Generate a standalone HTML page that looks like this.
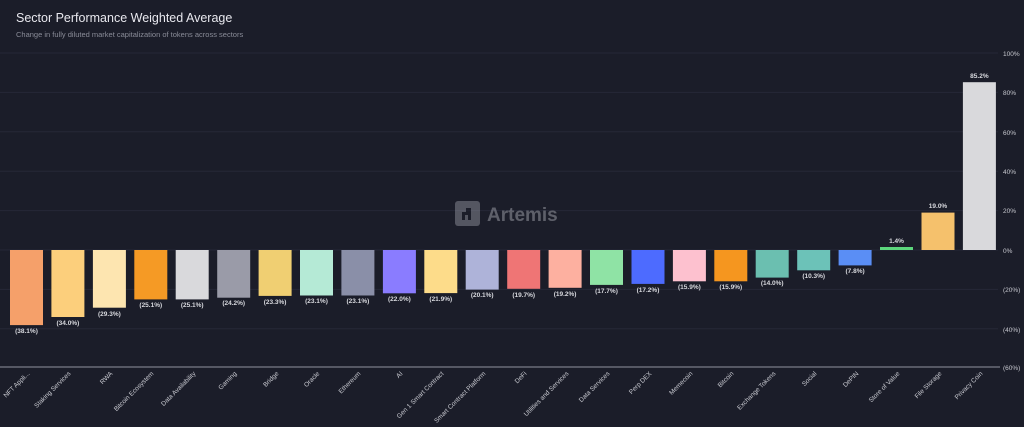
<!DOCTYPE html>
<html><head><meta charset="utf-8"><style>
html,body{margin:0;padding:0;background:#1b1d29;width:1024px;height:427px;overflow:hidden}
svg{display:block;font-family:"Liberation Sans",sans-serif}
</style></head><body>
<svg width="1024" height="427" viewBox="0 0 1024 427">
<rect width="1024" height="427" fill="#1b1d29"/>
<text x="16" y="22" fill="#e8e8ee" font-size="12.5">Sector Performance Weighted Average</text>
<text x="16" y="37" fill="#8a8c98" font-size="7.5">Change in fully diluted market capitalization of tokens across sectors</text>
<g stroke="#262837" stroke-width="1">
<line x1="0" x2="998" y1="53" y2="53"/><line x1="0" x2="998" y1="92.4" y2="92.4"/><line x1="0" x2="998" y1="131.8" y2="131.8"/><line x1="0" x2="998" y1="171.2" y2="171.2"/><line x1="0" x2="998" y1="210.6" y2="210.6"/><line x1="0" x2="998" y1="250" y2="250"/><line x1="0" x2="998" y1="289.4" y2="289.4"/><line x1="0" x2="998" y1="328.8" y2="328.8"/>
</g>
<line x1="0" x2="1000" y1="367" y2="367" stroke="#6a6c78" stroke-width="1.5"/>
<g fill="#c8c9d0" font-size="6.5">
<text x="1003" y="56">100%</text><text x="1003" y="95">80%</text><text x="1003" y="135">60%</text><text x="1003" y="174">40%</text><text x="1003" y="213">20%</text><text x="1003" y="253">0%</text><text x="1003" y="292">(20%)</text><text x="1003" y="332">(40%)</text><text x="1003" y="370">(60%)</text>
</g>
<g opacity="0.45">
<rect x="455" y="201" width="25" height="25" rx="3" fill="#9a9ba6"/>
<path d="M462 220 v-8 h4 v-4 h5 v12 h-3 v-5 h-3 v5z" fill="#1b1d29"/>
<text x="487" y="221" fill="#b0b1ba" font-size="19" font-weight="bold">Artemis</text>
</g>
<g>
<rect x="10" y="250" width="33" height="75.1" fill="#f5a06a"/>
<rect x="51.4" y="250" width="33" height="67" fill="#fccf7c"/>
<rect x="92.9" y="250" width="33" height="57.7" fill="#fde5b0"/>
<rect x="134.3" y="250" width="33" height="49.4" fill="#f59a25"/>
<rect x="175.7" y="250" width="33" height="49.4" fill="#d9d9dc"/>
<rect x="217.2" y="250" width="33" height="47.7" fill="#9a9ba8"/>
<rect x="258.6" y="250" width="33" height="45.9" fill="#f0cf72"/>
<rect x="300" y="250" width="33" height="45.5" fill="#b5ead6"/>
<rect x="341.4" y="250" width="33" height="45.5" fill="#8a8fa8"/>
<rect x="382.9" y="250" width="33" height="43.3" fill="#8a7cff"/>
<rect x="424.3" y="250" width="33" height="43.1" fill="#fddc8a"/>
<rect x="465.7" y="250" width="33" height="39.6" fill="#aeb3d9"/>
<rect x="507.2" y="250" width="33" height="38.8" fill="#ef7575"/>
<rect x="548.6" y="250" width="33" height="37.8" fill="#fdb0a0"/>
<rect x="590" y="250" width="33" height="34.9" fill="#8fe3a5"/>
<rect x="631.5" y="250" width="33" height="33.9" fill="#4d6bff"/>
<rect x="672.9" y="250" width="33" height="31.3" fill="#fdc1cf"/>
<rect x="714.3" y="250" width="33" height="31.3" fill="#f5961f"/>
<rect x="755.7" y="250" width="33" height="27.6" fill="#6bbfb0"/>
<rect x="797.2" y="250" width="33" height="20.3" fill="#6cc2b8"/>
<rect x="838.6" y="250" width="33" height="15.4" fill="#5a8ef5"/>
<rect x="880" y="247" width="33" height="3" fill="#5cd67c"/>
<rect x="921.5" y="212.6" width="33" height="37.4" fill="#f5c16c"/>
<rect x="962.9" y="82.2" width="33" height="167.8" fill="#d9d9dc"/>
</g>
<g fill="#d8d9de" font-size="6.5" text-anchor="middle" font-weight="bold">
<text x="26.5" y="333">(38.1%)</text><text x="67.9" y="325">(34.0%)</text><text x="109.4" y="316">(29.3%)</text><text x="150.8" y="307">(25.1%)</text><text x="192.2" y="307">(25.1%)</text><text x="233.7" y="305">(24.2%)</text><text x="275.1" y="304">(23.3%)</text><text x="316.5" y="303">(23.1%)</text><text x="357.9" y="303">(23.1%)</text><text x="399.4" y="301">(22.0%)</text><text x="440.8" y="301">(21.9%)</text><text x="482.2" y="297">(20.1%)</text><text x="523.7" y="297">(19.7%)</text><text x="565.1" y="296">(19.2%)</text><text x="606.5" y="293">(17.7%)</text><text x="648" y="292">(17.2%)</text><text x="689.4" y="289">(15.9%)</text><text x="730.8" y="289">(15.9%)</text><text x="772.2" y="285">(14.0%)</text><text x="813.7" y="278">(10.3%)</text><text x="855.1" y="273">(7.8%)</text><text x="896.5" y="243">1.4%</text><text x="938" y="208">19.0%</text><text x="979.4" y="78">85.2%</text>
</g>
<g fill="#c8c9d0" font-size="6.5" text-anchor="end">
<text transform="translate(30,374) rotate(-45)">NFT Appli...</text>
<text transform="translate(71,374) rotate(-45)">Staking Services</text>
<text transform="translate(113,374) rotate(-45)">RWA</text>
<text transform="translate(154,374) rotate(-45)">Bitcoin Ecosystem</text>
<text transform="translate(196,374) rotate(-45)">Data Availability</text>
<text transform="translate(237,374) rotate(-45)">Gaming</text>
<text transform="translate(279,374) rotate(-45)">Bridge</text>
<text transform="translate(320,374) rotate(-45)">Oracle</text>
<text transform="translate(361,374) rotate(-45)">Ethereum</text>
<text transform="translate(403,374) rotate(-45)">AI</text>
<text transform="translate(444,374) rotate(-45)">Gen 1 Smart Contract</text>
<text transform="translate(486,374) rotate(-45)">Smart Contract Platform</text>
<text transform="translate(527,374) rotate(-45)">DeFi</text>
<text transform="translate(569,374) rotate(-45)">Utilities and Services</text>
<text transform="translate(610,374) rotate(-45)">Data Services</text>
<text transform="translate(652,374) rotate(-45)">Perp DEX</text>
<text transform="translate(693,374) rotate(-45)">Memecoin</text>
<text transform="translate(734,374) rotate(-45)">Bitcoin</text>
<text transform="translate(776,374) rotate(-45)">Exchange Tokens</text>
<text transform="translate(817,374) rotate(-45)">Social</text>
<text transform="translate(859,374) rotate(-45)">DePIN</text>
<text transform="translate(900,374) rotate(-45)">Store of Value</text>
<text transform="translate(942,374) rotate(-45)">File Storage</text>
<text transform="translate(983,374) rotate(-45)">Privacy Coin</text>
</g>
</svg>
</body></html>
